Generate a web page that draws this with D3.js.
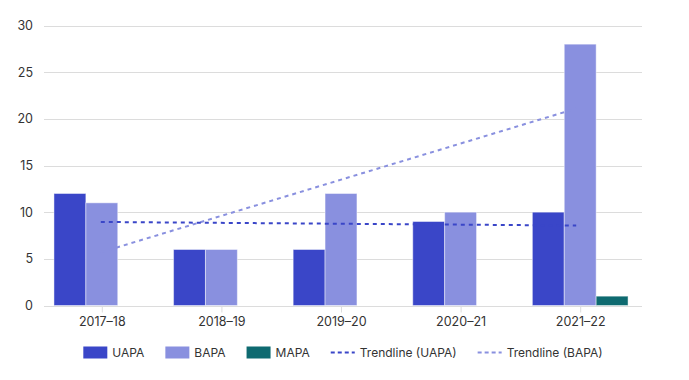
<!DOCTYPE html>
<html>
<head>
<meta charset="utf-8">
<script src="https://cdn.jsdelivr.net/npm/d3@7"></script>
<style>
  html, body { margin: 0; padding: 0; background: #fff; }
  svg { display: block; font-family: Inter, "Noto Sans", sans-serif; }
</style>
</head>
<body>
<div id="chart"></div>
<script>
const categories = ["2017–18", "2018–19", "2019–20", "2020–21", "2021–22"];
const seriesNames = ["UAPA", "BAPA", "MAPA"];
const uapa = [12, 6, 6, 9, 10];
const bapa = [11, 6, 12, 10, 28];
const mapa = [0, 0, 0, 0, 1];
const trendUAPA = [8.95, 8.57];   // value at first and last category
const trendBAPA = [5.7, 21.1];
const yTicks = [0, 5, 10, 15, 20, 25, 30];
const legendLabels = ["UAPA", "BAPA", "MAPA", "Trendline (UAPA)", "Trendline (BAPA)"];

const colors = { UAPA: "#3a46c8", BAPA: "#8990df", MAPA: "#0e6a70" };
const W = 689, H = 380;
const gridLeft = 44, gridRight = 642;

const svg = d3.select("#chart").append("svg").attr("width", W).attr("height", H);

const x0 = d3.scaleBand().domain(categories).range([42, 640]).paddingInner(0.2).paddingOuter(0.1);
const x1 = d3.scaleBand().domain(seriesNames).range([0, x0.bandwidth()]);
const y = d3.scaleLinear().domain([0, 30]).range([305.5, 25.5]);

// grid
svg.append("g").selectAll("line").data(yTicks).join("line")
  .attr("x1", gridLeft).attr("x2", gridRight)
  .attr("y1", d => Math.round(y(d)) + 0.5).attr("y2", d => Math.round(y(d)) + 0.5)
  .attr("stroke", "#dcdcdc").attr("stroke-width", 1);

// y labels
svg.append("g").selectAll("text").data(yTicks).join("text")
  .attr("x", 33).attr("y", d => y(d)).attr("dy", "0.35em")
  .attr("text-anchor", "end").attr("font-size", 12.5).attr("fill", "#333")
  .text(d => d);

// x axis ticks
const xAxis = d3.axisBottom(d3.scalePoint().domain(categories).range([x0(categories[0]) + x0.bandwidth()/2, x0(categories[4]) + x0.bandwidth()/2]))
  .tickSize(6).tickPadding(5);
const gx = svg.append("g").attr("transform", `translate(0,${Math.round(y(0)) + 0.5})`).call(xAxis);
gx.select(".domain").remove();
gx.selectAll(".tick line").attr("stroke", "#dcdcdc");
gx.selectAll(".tick text").attr("font-size", 12.5).attr("fill", "#333").attr("font-family", "Inter, sans-serif");

// bars
const rows = categories.map((c, i) => ({ cat: c, UAPA: uapa[i], BAPA: bapa[i], MAPA: mapa[i] }));
const groups = svg.append("g").selectAll("g").data(rows).join("g")
  .attr("transform", d => `translate(${x0(d.cat)},0)`);
groups.selectAll("rect").data(d => seriesNames.map(s => ({ s, v: d[s] })).filter(e => e.v > 0)).join("rect")
  .attr("x", e => x1(e.s)).attr("width", x1.bandwidth())
  .attr("y", e => y(e.v)).attr("height", e => y(0) - y(e.v))
  .attr("fill", e => colors[e.s])
  .attr("stroke", "rgba(255,255,255,0.45)").attr("stroke-width", 1);

// trendlines
const cx = c => x0(c) + x0.bandwidth() / 2;
const first = categories[0], last = categories[categories.length - 1];
function trend(vals, color) {
  svg.append("line")
    .attr("x1", cx(first) - 1).attr("x2", cx(last) - 4)
    .attr("y1", y(vals[0])).attr("y2", y(vals[1]))
    .attr("stroke", color).attr("stroke-width", 2).attr("stroke-dasharray", "4,4");
}
trend(trendBAPA, colors.BAPA);
trend(trendUAPA, colors.UAPA);

// legend
const legend = svg.append("g");
const items = legendLabels.map((l, i) => ({ label: l, type: i < 3 ? "rect" : "line",
  color: [colors.UAPA, colors.BAPA, colors.MAPA, colors.UAPA, colors.BAPA][i] }));
const tmp = legend.append("text").attr("font-size", 12);
items.forEach(it => { tmp.text(it.label); it.w = tmp.node().getComputedTextLength(); });
tmp.remove();
const symW = 24, gap1 = 5, gap2 = 21;
const total = d3.sum(items, it => symW + gap1 + it.w) + gap2 * (items.length - 1);
let lx = 343 - total / 2;
const ly = 352.5;
items.forEach(it => {
  if (it.type === "rect") {
    legend.append("rect").attr("x", lx).attr("y", ly - 6).attr("width", symW).attr("height", 12).attr("fill", it.color);
  } else {
    legend.append("line").attr("x1", lx).attr("x2", lx + symW).attr("y1", ly).attr("y2", ly)
      .attr("stroke", it.color).attr("stroke-width", 2).attr("stroke-dasharray", "4,3");
  }
  legend.append("text").attr("x", lx + symW + gap1).attr("y", ly).attr("dy", "0.35em")
    .attr("font-size", 12).attr("fill", "#333").text(it.label);
  lx += symW + gap1 + it.w + gap2;
});
</script>
</body>
</html>
